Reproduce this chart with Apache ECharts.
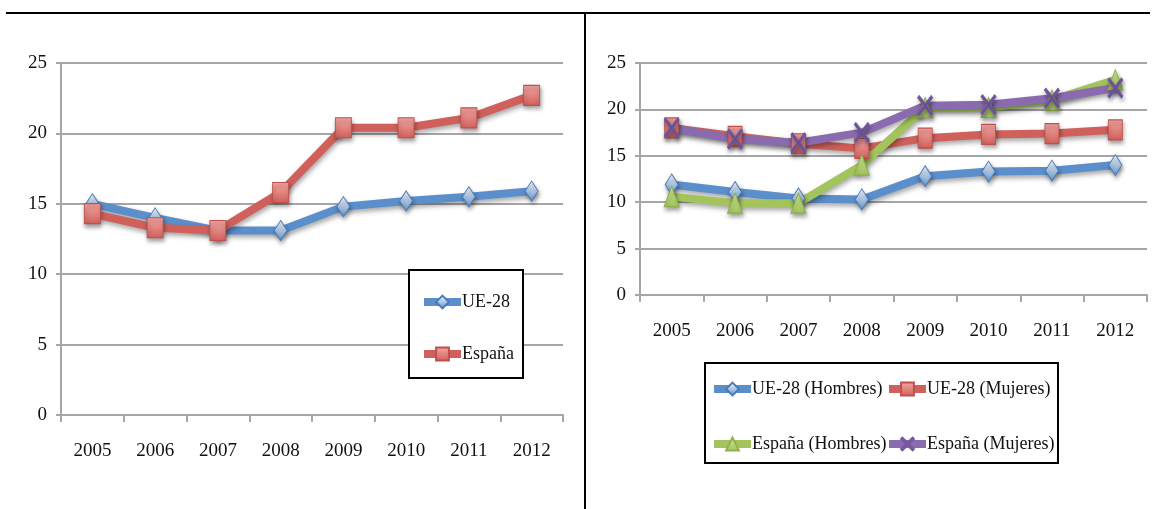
<!DOCTYPE html>
<html>
<head>
<meta charset="utf-8">
<script src="https://cdn.jsdelivr.net/npm/echarts@6/dist/echarts.min.js"></script>
<style>
  html, body { margin: 0; padding: 0; background: #fff; }
  #chart { width: 1153px; height: 509px; }
</style>
</head>
<body>
<div id="chart"></div>
<script>
// Years on the horizontal axis (shared by both panels)
const years = ['2005', '2006', '2007', '2008', '2009', '2010', '2011', '2012'];

// Left panel: totals
const ue28 = [15.0, 14.0, 13.1, 13.1, 14.8, 15.2, 15.5, 15.9];
const espana = [14.3, 13.3, 13.1, 15.8, 20.4, 20.4, 21.1, 22.7];

// Right panel: by sex
const ue28Hombres = [11.9, 11.1, 10.4, 10.3, 12.8, 13.3, 13.4, 14.0];
const ue28Mujeres = [18.0, 17.1, 16.3, 15.8, 16.9, 17.3, 17.4, 17.8];
const espanaHombres = [10.6, 9.9, 9.9, 14.0, 20.2, 20.2, 21.0, 23.2];
const espanaMujeres = [18.0, 16.8, 16.4, 17.5, 20.4, 20.5, 21.2, 22.3];

// Value-axis ticks
const yTicks = { min: 0, max: 25, interval: 5 };

const FONT = "'Liberation Serif', 'DejaVu Serif', serif";
const TEXT = '#111111';
const GRID_GREY = '#a6a6a6';

const C = {
  blue: '#5a8fcb', blueDark: '#4a7bb7',
  red: '#d0605b', redDark: '#c0504d',
  green: '#a3c45c', greenDark: '#8fb04a',
  purple: '#8a6bb0', purpleDark: '#7458a0'
};

const grad = (top, bottom) => ({
  type: 'linear', x: 0, y: 0, x2: 0, y2: 1,
  colorStops: [{ offset: 0, color: top }, { offset: 1, color: bottom }]
});

const X_PATH = 'path://M0,2 L2,0 L10,8 L18,0 L20,2 L12,10 L20,18 L18,20 L10,12 L2,20 L0,18 L8,10 Z';

function lineSeries(name, data, gi, color, dark, symbol, size, fill) {
  return {
    name, type: 'line', data,
    xAxisIndex: gi, yAxisIndex: gi,
    symbol, symbolSize: size,
    showAllSymbol: true,
    lineStyle: {
      color, width: 8, cap: 'round', join: 'round',
      shadowColor: 'rgba(0,0,0,0.35)', shadowBlur: 5, shadowOffsetX: 1, shadowOffsetY: 3
    },
    itemStyle: {
      color: fill || grad('#ffffff', color),
      borderColor: dark, borderWidth: 1,
      shadowColor: 'rgba(0,0,0,0.35)', shadowBlur: 4, shadowOffsetX: 1, shadowOffsetY: 3
    },
    emphasis: { disabled: true },
    animation: false
  };
}

function xAxis(gi) {
  return {
    type: 'category', data: years, gridIndex: gi, boundaryGap: true,
    axisLine: { lineStyle: { color: GRID_GREY, width: 2 } },
    axisTick: { show: true, alignWithLabel: false, length: 7, lineStyle: { color: GRID_GREY, width: 2 } },
    axisLabel: { color: TEXT, fontFamily: FONT, fontSize: 19, margin: 27 }
  };
}

function yAxis(gi) {
  return {
    type: 'value', gridIndex: gi, min: yTicks.min, max: yTicks.max, interval: yTicks.interval,
    axisLine: { show: true, lineStyle: { color: GRID_GREY, width: 2 } },
    axisTick: { show: true, length: 5, lineStyle: { color: GRID_GREY, width: 2 } },
    splitLine: { lineStyle: { color: GRID_GREY, width: 2 } },
    axisLabel: { color: TEXT, fontFamily: FONT, fontSize: 19, margin: 14 }
  };
}

function legendAt(name, left, top) {
  return {
    data: [name], left, top, orient: 'horizontal',
    itemWidth: 37, itemHeight: 16, padding: 0,
    selectedMode: false,
    lineStyle: { width: 8, cap: 'butt', shadowBlur: 0, shadowColor: 'transparent' },
    itemStyle: { shadowBlur: 0, shadowColor: 'transparent' },
    textStyle: { color: TEXT, fontFamily: FONT, fontSize: 18, padding: [0, 0, 0, -4] }
  };
}

const chart = echarts.init(document.getElementById('chart'), null, { renderer: 'canvas' });

chart.setOption({
  backgroundColor: '#ffffff',
  animation: false,
  grid: [
    { left: 61, right: 590, top: 63, bottom: 94 },
    { left: 640, right: 6, top: 63, bottom: 214 }
  ],
  xAxis: [xAxis(0), xAxis(1)],
  yAxis: [yAxis(0), yAxis(1)],
  legend: [
    legendAt('UE-28', 420, 293),
    legendAt('España', 420, 345),
    legendAt('UE-28 (Hombres)', 710, 380),
    legendAt('UE-28 (Mujeres)', 885, 380),
    legendAt('España (Hombres)', 710, 435),
    legendAt('España (Mujeres)', 885, 435)
  ],
  series: [
    lineSeries('UE-28', ue28, 0, C.blue, C.blueDark, 'diamond', [13, 20]),
    lineSeries('España', espana, 0, C.red, C.redDark, 'rect', [16, 20], grad('#f4a8a4', C.red)),
    lineSeries('UE-28 (Hombres)', ue28Hombres, 1, C.blue, C.blueDark, 'diamond', [13, 21]),
    lineSeries('UE-28 (Mujeres)', ue28Mujeres, 1, C.red, C.redDark, 'rect', [14, 20], grad('#f4a8a4', C.red)),
    lineSeries('España (Hombres)', espanaHombres, 1, C.green, C.greenDark, 'triangle', [15, 20], grad('#d4eb9a', C.green)),
    lineSeries('España (Mujeres)', espanaMujeres, 1, C.purple, C.purpleDark, X_PATH, [15, 20], C.purpleDark)
  ],
  graphic: [
    // page frame rules
    { type: 'line', shape: { x1: 6, y1: 13, x2: 1150, y2: 13 }, style: { stroke: '#000', lineWidth: 2 }, silent: true },
    { type: 'line', shape: { x1: 585, y1: 13, x2: 585, y2: 509 }, style: { stroke: '#000', lineWidth: 2 }, silent: true },
    // legend boxes
    { type: 'rect', shape: { x: 409, y: 270, width: 114, height: 108 }, style: { fill: '#fff', stroke: '#000', lineWidth: 2 }, z: 1, silent: true },
    { type: 'rect', shape: { x: 705, y: 363, width: 353, height: 100 }, style: { fill: '#fff', stroke: '#000', lineWidth: 2 }, z: 1, silent: true }
  ]
});
</script>
</body>
</html>
